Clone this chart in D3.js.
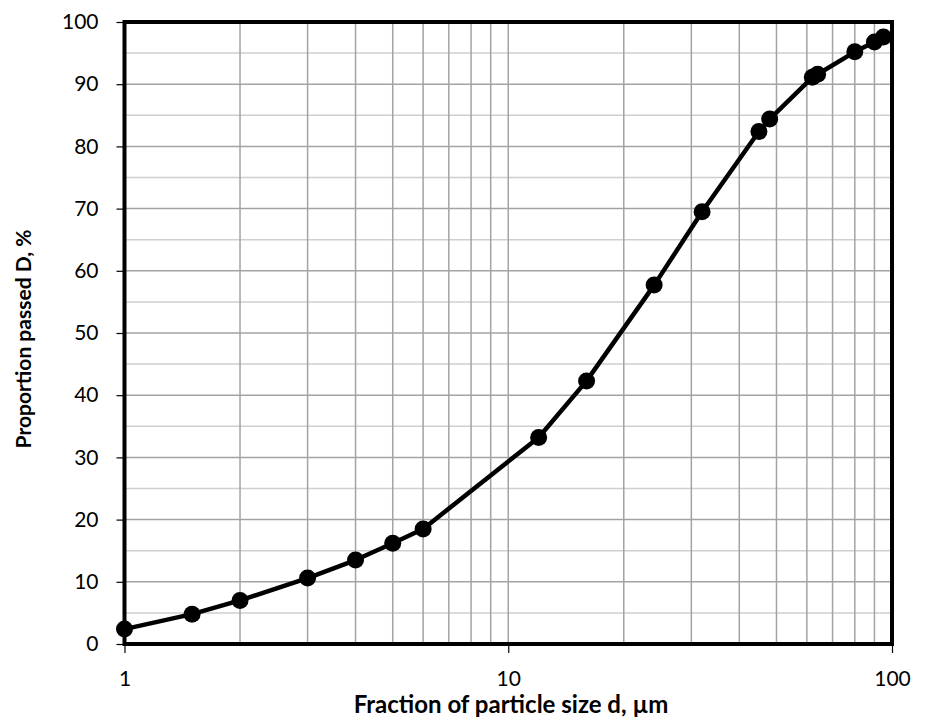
<!DOCTYPE html>
<html>
<head>
<meta charset="utf-8">
<script src="https://cdn.jsdelivr.net/npm/d3@7"></script>
<style>
  html, body { margin: 0; padding: 0; background: #fff; }
  svg { display: block; font-family: Lato, "Open Sans", sans-serif; }
</style>
</head>
<body>
<svg id="chart" width="927" height="720"></svg>
<script>
// particle size (µm) and cumulative passing (%)
const sizes = [1, 1.5, 2, 3, 4, 5, 6, 12, 16, 24, 32, 45, 48, 62, 64, 80, 90, 95];
const passed = [2.4, 4.8, 7.0, 10.6, 13.5, 16.2, 18.5, 33.2, 42.3, 57.7, 69.5, 82.4, 84.4, 91.1, 91.6, 95.2, 96.8, 97.6];
const xTicks = [1, 10, 100];
const yTicks = [0, 10, 20, 30, 40, 50, 60, 70, 80, 90, 100];

const svg = d3.select("#chart");
const plotL = 124.5, plotR = 892, plotT = 22, plotB = 644;

const x = d3.scaleLog().domain([1, 100]).range([plotL, plotR]);
const y = d3.scaleLinear().domain([0, 100]).range([plotB, plotT]);

// --- grid ---
const minorY = d3.range(5, 100, 10);
const gridX = [];
[1, 10].forEach(dec => d3.range(2, 10).forEach(k => gridX.push(dec * k)));
gridX.push(10);

const grid = svg.append("g");
grid.selectAll("line.minor").data(minorY).enter().append("line")
    .attr("x1", plotL).attr("x2", plotR)
    .attr("y1", d => y(d)).attr("y2", d => y(d))
    .attr("stroke", "#cfcfcf").attr("stroke-width", 1.5);
grid.selectAll("line.major").data(yTicks.slice(1, -1)).enter().append("line")
    .attr("x1", plotL).attr("x2", plotR)
    .attr("y1", d => y(d)).attr("y2", d => y(d))
    .attr("stroke", "#a3a3a3").attr("stroke-width", 1.5);
grid.selectAll("line.vx").data(gridX).enter().append("line")
    .attr("x1", d => x(d)).attr("x2", d => x(d))
    .attr("y1", plotT).attr("y2", plotB)
    .attr("stroke", "#a3a3a3").attr("stroke-width", 1.5);

// --- axes ---
const yAxis = svg.append("g")
    .attr("transform", `translate(${plotL},0)`)
    .call(d3.axisLeft(y).tickValues(yTicks).tickSize(8).tickPadding(18));
const xAxis = svg.append("g")
    .attr("transform", `translate(0,${plotB})`)
    .call(d3.axisBottom(x).tickValues(xTicks).tickFormat(d3.format("d")).tickSize(9).tickPadding(18));

[yAxis, xAxis].forEach(ax => {
    ax.select(".domain").remove();
    ax.selectAll(".tick line").attr("stroke", "#000").attr("stroke-width", 1.2);
    ax.selectAll(".tick text").attr("fill", "#000").style("font-size", "21px").style("font-family", "Lato, sans-serif");
});

// frame
svg.append("rect")
    .attr("x", plotL).attr("y", plotT)
    .attr("width", plotR - plotL).attr("height", plotB - plotT)
    .attr("fill", "none").attr("stroke", "#000").attr("stroke-width", 4);

// --- data ---
const pts = sizes.map((s, i) => ({ s: s, p: passed[i] }));
const line = d3.line().x(d => x(d.s)).y(d => y(d.p));

svg.append("path").datum(pts)
    .attr("d", line)
    .attr("fill", "none")
    .attr("stroke", "#000")
    .attr("stroke-width", 4.5)
    .attr("stroke-linejoin", "round");

svg.append("g").selectAll("circle").data(pts).enter().append("circle")
    .attr("cx", d => x(d.s)).attr("cy", d => y(d.p))
    .attr("r", 8.5).attr("fill", "#000");

// --- titles ---
svg.append("text")
    .attr("x", 511).attr("y", 713)
    .attr("text-anchor", "middle")
    .style("font-size", "24px").style("font-weight", "700")
    .text("Fraction of particle size d, µm");

svg.append("text")
    .attr("transform", `translate(31,339) rotate(-90)`)
    .attr("text-anchor", "middle")
    .style("font-size", "21px").style("font-weight", "700")
    .text("Proportion passed D, %");
</script>
</body>
</html>
